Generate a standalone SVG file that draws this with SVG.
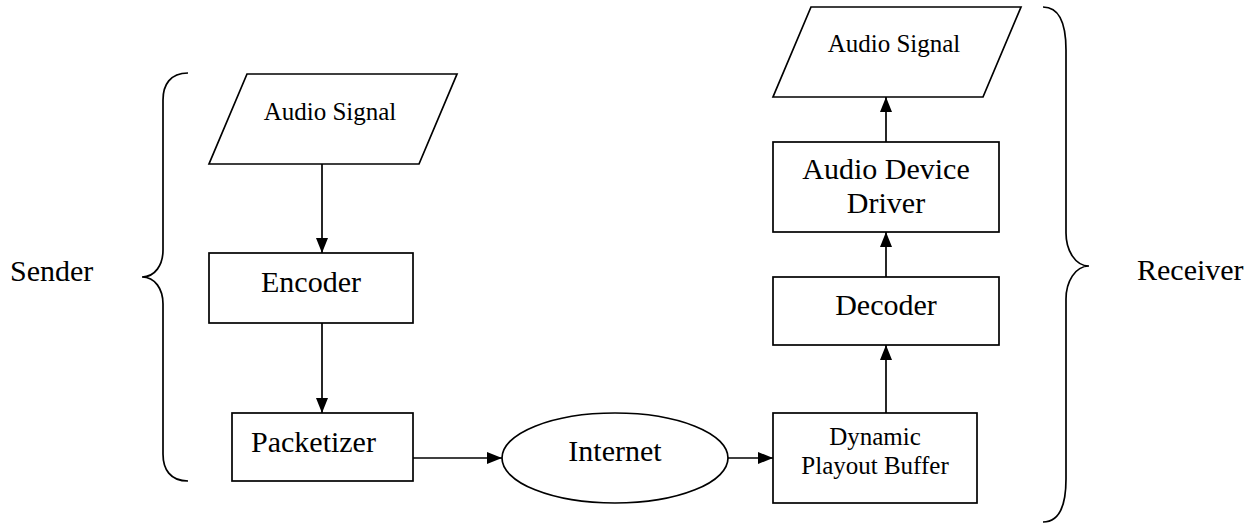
<svg xmlns="http://www.w3.org/2000/svg" width="1258" height="526" viewBox="0 0 1258 526">
<style>
.s{fill:#fff;stroke:#000;stroke-width:1.7}
.t{font-size:30px;fill:#000;text-anchor:middle}
.ts{font-size:25px;fill:#000;text-anchor:middle}
.c{fill:none;stroke:#000;stroke-width:1.7}
.b{fill:none;stroke:#000;stroke-width:1.7}
</style>
<defs>
<marker id="ah" markerUnits="userSpaceOnUse" markerWidth="16" markerHeight="13" refX="15" refY="6" orient="auto">
<path d="M0,0 L15,6 L0,12 z" fill="#000"/>
</marker>
</defs>
<rect width="1258" height="526" fill="#fff"/>
<g font-family="'Liberation Serif', Tinos, 'DejaVu Serif', serif">
<g id="braces">
<path class="b" d="M188,73 C170,73 163,85 163,100 L163,250 C163,265 155,277 142,277 C155,277 163,289 163,304 L163,454 C163,469 170,481 188,481"/>
<path class="b" d="M1043,7 C1060,7 1066,25 1066,50 L1066,233 C1066,250 1075,266 1089,266 C1075,266 1066,282 1066,299 L1066,479 C1066,504 1060,522 1043,522"/>
</g>
<g id="sender-label"><text class="t" x="10" y="281" text-anchor="start" style="text-anchor:start">Sender</text></g>
<g id="receiver-label"><text class="t" x="1137" y="280" style="text-anchor:start">Receiver</text></g>
<g id="audio-in">
<polygon class="s" points="247,74 457,74 419,164 209,164"/>
<text class="ts" x="330" y="120">Audio Signal</text>
</g>
<g id="encoder">
<rect class="s" x="209" y="253" width="204" height="70"/>
<text class="t" x="311" y="292">Encoder</text>
</g>
<g id="packetizer">
<rect class="s" x="232" y="413" width="181" height="68"/>
<text class="t" x="251" y="452" style="text-anchor:start">Packetizer</text>
</g>
<g id="internet">
<ellipse class="s" cx="615" cy="458" rx="113" ry="45"/>
<text class="t" x="615" y="461">Internet</text>
</g>
<g id="buffer">
<rect class="s" x="773" y="413" width="204" height="90"/>
<text class="ts" x="875" y="445">Dynamic</text>
<text class="ts" x="875" y="474">Playout Buffer</text>
</g>
<g id="decoder">
<rect class="s" x="773" y="277" width="226" height="68"/>
<text class="t" x="886" y="315">Decoder</text>
</g>
<g id="driver">
<rect class="s" x="773" y="142" width="226" height="90"/>
<text class="t" x="886" y="179">Audio Device</text>
<text class="t" x="886" y="213">Driver</text>
</g>
<g id="audio-out">
<polygon class="s" points="811,7 1021,7 983,97 773,97"/>
<text class="ts" x="894" y="52">Audio Signal</text>
</g>
<g id="connectors">
<line class="c" x1="322" y1="164" x2="322" y2="253" marker-end="url(#ah)"/>
<line class="c" x1="322" y1="323" x2="322" y2="413" marker-end="url(#ah)"/>
<line class="c" x1="413" y1="458" x2="502" y2="458" marker-end="url(#ah)"/>
<line class="c" x1="728" y1="458" x2="773" y2="458" marker-end="url(#ah)"/>
<line class="c" x1="886" y1="413" x2="886" y2="345" marker-end="url(#ah)"/>
<line class="c" x1="886" y1="277" x2="886" y2="232" marker-end="url(#ah)"/>
<line class="c" x1="886" y1="142" x2="886" y2="97" marker-end="url(#ah)"/>
</g>
</g>
</svg>
